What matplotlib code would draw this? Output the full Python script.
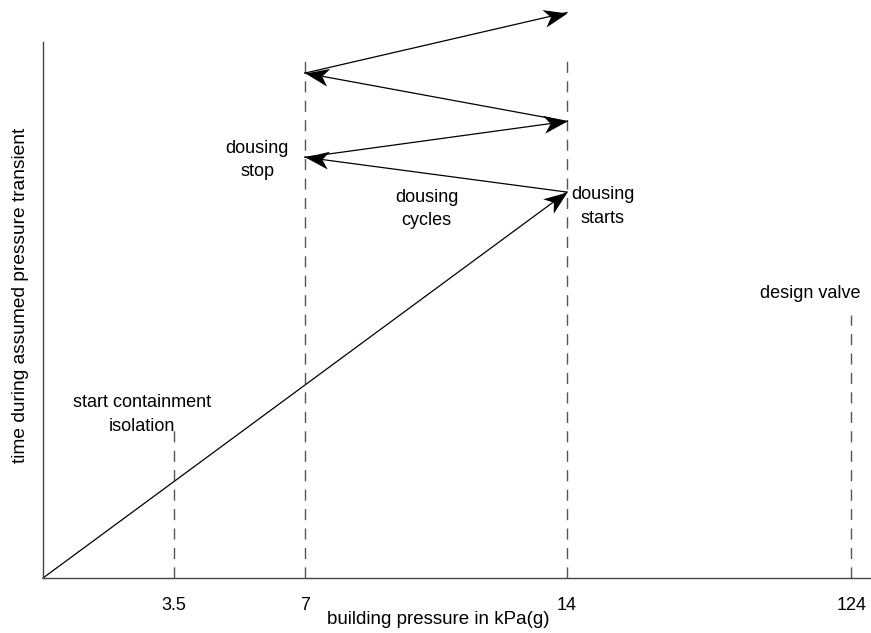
import matplotlib
matplotlib.use('Agg')
import matplotlib.pyplot as plt
from matplotlib.markers import MarkerStyle
from matplotlib.path import Path
from matplotlib.transforms import Affine2D
import numpy as np

plt.rcParams['font.family'] = ['Liberation Sans', 'DejaVu Sans']

# pressure marks (kPa(g)) and where they sit on the compressed axis
tick_labels = ['3.5', '7', '14', '124']
tick_pos = [3.5, 7, 14, 21.6]
# how far up each dashed guide reaches (time units)
guide_top = [2.82, 9.66, 9.66, 4.9]

# pressure / time path of the transient
path_p = [0, 14, 7, 14, 7, 14]
path_t = [0, 7.2, 7.85, 8.52, 9.42, 10.55]

fig = plt.figure(figsize=(8.71, 6.33), dpi=100)
ax = fig.add_axes([43 / 871, 55 / 633, 827 / 871, 536 / 633])
ax.set_xlim(0, 22.1)
ax.set_ylim(0, 10)

for sp in ['top', 'right']:
    ax.spines[sp].set_visible(False)
for sp in ['left', 'bottom']:
    ax.spines[sp].set_color('#444444')
    ax.spines[sp].set_linewidth(1.0)

# dashed guide lines
for x, top in zip(tick_pos, guide_top):
    ax.plot([x, x], [0, top], color='#555555', lw=1.0, dashes=(8, 6))

# stealth-like arrow head, tip at origin pointing along +x
head = Path([(0, 0), (-1, 0.38), (-0.72, 0), (-1, -0.38), (0, 0)],
            [Path.MOVETO, Path.LINETO, Path.LINETO, Path.LINETO, Path.CLOSEPOLY])

# arrows of the pressure cycle
for i in range(len(path_p) - 1):
    p0 = (path_p[i], path_t[i])
    p1 = (path_p[i + 1], path_t[i + 1])
    ax.plot([p0[0], p1[0]], [p0[1], p1[1]], color='black', lw=0.9, clip_on=False)
    d0 = ax.transData.transform(p0)
    d1 = ax.transData.transform(p1)
    ang = np.degrees(np.arctan2(d1[1] - d0[1], d1[0] - d0[0]))
    m = MarkerStyle(head, transform=Affine2D().rotate_deg(ang))
    ax.plot([p1[0]], [p1[1]], marker=m, markersize=34, color='black',
            markeredgewidth=0, linestyle='none', clip_on=False)

ax.set_xticks(tick_pos)
ax.set_xticklabels(tick_labels, fontsize=13)
ax.set_yticks([])
ax.tick_params(axis='x', length=0, pad=14)

ax.set_xlabel('building pressure in kPa(g)', fontsize=13.5)
ax.xaxis.set_label_coords((438 - 43) / 827, -33 / 536)
ax.set_ylabel('time during assumed pressure transient', fontsize=13.8)
ax.yaxis.set_label_coords(-14 / 827, (578 - 295) / 536)

fs = 13
ls = 1.5
ax.text(2.65, 3.05, 'start containment\nisolation', ha='center', va='center', fontsize=fs, linespacing=ls)
ax.text(5.73, 7.8, 'dousing\nstop', ha='center', va='center', fontsize=fs, linespacing=ls)
ax.text(10.25, 6.88, 'dousing\ncycles', ha='center', va='center', fontsize=fs, linespacing=ls)
ax.text(14.95, 6.93, 'dousing\nstarts', ha='center', va='center', fontsize=fs, linespacing=ls)
ax.text(20.5, 5.3, 'design valve', ha='center', va='center', fontsize=fs)

fig.savefig('out.png', dpi=100)
